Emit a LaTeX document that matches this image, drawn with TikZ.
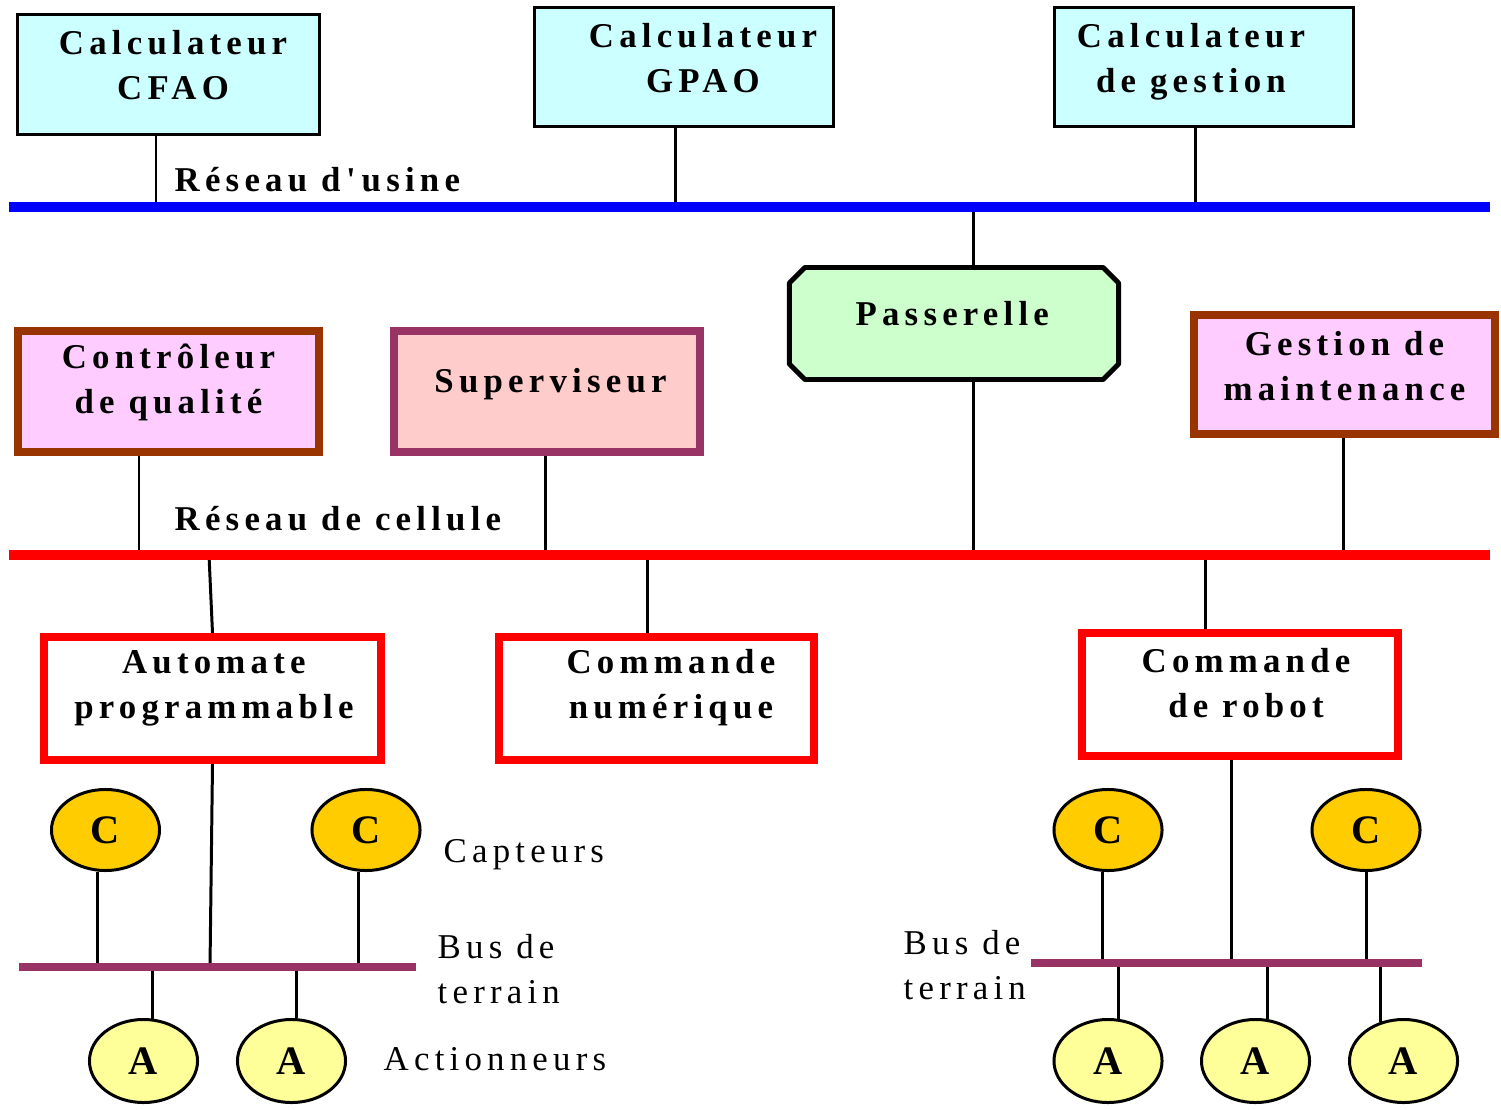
\documentclass[tikz,border=0pt]{standalone}
\usepackage{fontspec}
\setmainfont{Liberation Serif}[LetterSpace=15]
\usetikzlibrary{shapes.geometric,shapes.misc}

\definecolor{calcfill}{HTML}{CCFFFF}
\definecolor{passfill}{HTML}{CCFFCC}
\definecolor{rosefill}{HTML}{FFCCFF}
\definecolor{supfill}{HTML}{FFCCCC}
\definecolor{brun}{HTML}{993300}
\definecolor{prune}{HTML}{993366}
\definecolor{captfill}{HTML}{FFCC00}
\definecolor{actfill}{HTML}{FFFF99}

\begin{document}
\begin{tikzpicture}[x = 0.01cm, y = -0.01cm,
    txt/.style = {align = center, font = \bfseries\fontsize{9.9}{12.8}\selectfont},
    note/.style = {align = left, inner sep = 0pt, font = \fontsize{9.9}{12.6}\selectfont},
    reseau/.style = {note, font = \bfseries\fontsize{9.9}{12}\selectfont},
    calc/.style = {draw, fill = calcfill, line width = 0.85pt},
    cell/.style = {line width = 2.3pt},
    cmd/.style = {draw = red, fill = white, line width = 2.3pt, minimum height = 1.23cm},
    capt/.style = {ellipse, draw, fill = captfill, line width = 0.85pt, inner sep = 0pt,
        minimum width = 1.08cm, minimum height = 0.81cm, font = \bfseries\fontsize{11.5}{12}\selectfont},
    act/.style = {capt, fill = actfill, minimum height = 0.83cm},
    wire/.style = {line width = 0.85pt},
    usine/.style = {blue, line width = 2.85pt},
    cellule/.style = {red, line width = 2.85pt},
    terrain/.style = {prune, line width = 2.5pt}]
    \useasboundingbox (0,0) rectangle (1501,1110);

    \node[calc, minimum width = 3.02cm, minimum height = 1.2cm,
        label = {[txt, xshift = 1.3pt, yshift = 2.6pt]center:{Calculateur\\CFAO}}] (cfao) at (168.5,74.5) {};
    \node[calc, minimum width = 2.99cm, minimum height = 1.19cm,
        label = {[txt, xshift = 5.4pt, yshift = 2.4pt]center:{Calculateur\\GPAO}}] (gpao) at (684,67) {};
    \node[calc, minimum width = 2.99cm, minimum height = 1.19cm,
        label = {[txt, xshift = -3.7pt, yshift = 1.4pt]center:{Calculateur\\de gestion}}] (gest) at (1204,67) {};

    \node[chamfered rectangle, chamfered rectangle xsep = 2.2pt, chamfered rectangle ysep = 2.2pt,
        draw, fill = passfill, line width = 1.4pt, line join = round, minimum width = 3.29cm, minimum height = 1.12cm,
        label = {[txt, xshift = -0.5pt, yshift = 2.7pt]center:Passerelle}] (pass) at (954,323.5) {};

    \node[cell, draw = brun, fill = rosefill, minimum width = 3.01cm, minimum height = 1.21cm,
        label = {[txt, yshift = 2.6pt]center:{Contrôleur\\de qualité}}] (ctrl) at (168.5,391.5) {};
    \node[cell, draw = prune, fill = supfill, minimum width = 3.06cm, minimum height = 1.21cm,
        label = {[txt, xshift = 1pt, yshift = 2.1pt]center:Superviseur}] (sup) at (547,391.5) {};
    \node[cell, draw = brun, fill = rosefill, minimum width = 3.01cm, minimum height = 1.19cm,
        label = {[txt, yshift = 2.4pt]center:{Gestion de\\maintenance}}] (maint) at (1344.5,374.5) {};

    \node[cmd, minimum width = 3.37cm,
        label = {[txt, xshift = 0.4pt, yshift = 3pt]center:{Automate\\programmable}}] (auto) at (212.5,698.5) {};
    \node[cmd, minimum width = 3.15cm,
        label = {[txt, xshift = 4.1pt, yshift = 3pt]center:{Commande\\numérique}}] (num) at (656.5,698.5) {};
    \node[cmd, minimum width = 3.16cm,
        label = {[txt, xshift = 1.7pt, yshift = 3.3pt]center:{Commande\\de robot}}] (robot) at (1240,694.5) {};

    \node[capt] (lc1) at (105.5,830) {C};
    \node[capt] (lc2) at (366,830) {C};
    \node[act] (la1) at (143.5,1061) {A};
    \node[act] (la2) at (291.5,1061) {A};
    \node[capt] (rc1) at (1108,830) {C};
    \node[capt] (rc2) at (1366,830) {C};
    \node[act] (ra1) at (1108,1061) {A};
    \node[act] (ra2) at (1255.5,1061) {A};
    \node[act] (ra3) at (1403.5,1061) {A};

    \node[reseau, anchor = base west] (lusine) at (174,192) {Réseau d\,\textquotesingle\,usine};
    \node[reseau, anchor = base west] (lcell) at (174,531) {Réseau de cellule};
    \node[note, anchor = base west] (lcapt) at (443,862) {Capteurs};
    \node[note, anchor = west] (lbus) at (437,969) {Bus de\\terrain};
    \node[note, anchor = base west] (lact) at (383,1070) {Actionneurs};
    \node[note, anchor = west] (rbus) at (903,965) {Bus de\\terrain};

    \coordinate (usw) at (9,207);
    \coordinate (use) at (1490,207);
    \coordinate (tcfao) at (156,207);
    \coordinate (tgpao) at (675,207);
    \coordinate (tgest) at (1195,207);
    \coordinate (tpassu) at (973,207);
    \draw[wire] (tcfao) -- (tcfao |- cfao.south);
    \draw[wire] (tgpao) -- (tgpao |- gpao.south);
    \draw[wire] (tgest) -- (tgest |- gest.south);
    \draw[wire] (tpassu) -- (tpassu |- pass.north);

    \coordinate (csw) at (9,555);
    \coordinate (cse) at (1490,555);
    \coordinate (tpassc) at (973,555);
    \coordinate (tctrl) at (139,555);
    \coordinate (tsup) at (545,555);
    \coordinate (tmaint) at (1343,555);
    \coordinate (tauto) at (209,555);
    \coordinate (tnum) at (647,555);
    \coordinate (trob) at (1205,555);
    \draw[wire] (pass.south -| tpassc) -- (tpassc);
    \draw[wire] (ctrl.south -| tctrl) -- (tctrl);
    \draw[wire] (sup.south -| tsup) -- (tsup);
    \draw[wire] (maint.south -| tmaint) -- (tmaint);
    \draw[wire] (tauto) -- (auto.north);
    \draw[wire] (tnum) -- (tnum |- num.north);
    \draw[wire] (trob) -- (trob |- robot.north);

    \coordinate (lbw) at (19,967);
    \coordinate (lbe) at (416,967);
    \coordinate (tla) at (210,967);
    \draw[wire] (auto.south) -- (tla);
    \draw[wire] (lc1.259) -- (lc1.259 |- lbw);
    \draw[wire] (lc2.260) -- (lc2.260 |- lbw);
    \draw[wire] (la1.78) -- (la1.78 |- lbw);
    \draw[wire] (la2.83) -- (la2.83 |- lbw);

    \coordinate (rbw) at (1031,963);
    \coordinate (rbe) at (1422,963);
    \coordinate (trb) at (1231,963);
    \draw[wire] (trb |- robot.south) -- (trb);
    \draw[wire] (rc1.263) -- (rc1.263 |- rbw);
    \draw[wire] (rc2.south) -- (rc2.south |- rbw);
    \draw[wire] (ra1.76) -- (ra1.76 |- rbw);
    \draw[wire] (ra2.74) -- (ra2.74 |- rbw);
    \draw[wire] (ra3.120) -- (ra3.120 |- rbw);

    \draw[usine] (usw) -- (use);
    \draw[cellule] (csw) -- (cse);
    \draw[terrain] (lbw) -- (lbe);
    \draw[terrain] (rbw) -- (rbe);
\end{tikzpicture}
\end{document}
